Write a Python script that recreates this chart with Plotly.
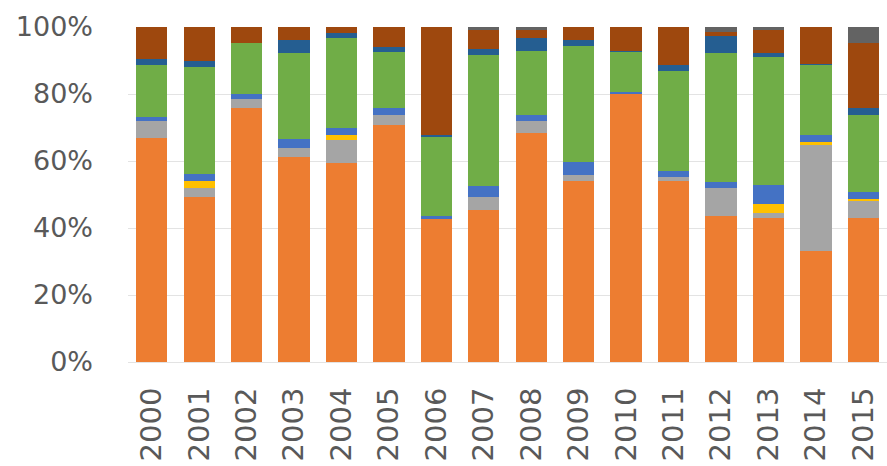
import plotly.graph_objects as go

years = [str(y) for y in range(2000, 2016)]

# shares in percent, bottom to top
orange    = [66.8, 49.2, 75.7, 61.3, 59.3, 70.7, 42.7, 45.4, 68.4, 54.1, 80.2, 54.1, 43.6, 42.9, 33.0, 42.9]
gray      = [5.1, 2.8, 2.8, 2.5, 7.0, 3.0, 0.0, 3.8, 3.5, 1.7, 0.0, 1.2, 8.2, 1.5, 31.8, 5.2]
yellow    = [0.0, 2.1, 0.0, 0.0, 1.5, 0.0, 0.0, 0.0, 0.0, 0.0, 0.0, 0.0, 0.0, 2.8, 1.0, 0.5]
blue      = [1.3, 2.0, 1.5, 2.8, 2.2, 2.0, 0.9, 3.4, 1.8, 4.0, 0.5, 1.8, 2.0, 5.6, 2.0, 2.2]
green     = [15.5, 32.1, 15.3, 25.7, 26.6, 16.9, 23.7, 39.0, 19.2, 34.5, 12.0, 29.9, 38.5, 38.1, 20.9, 22.9]
darkblue  = [1.7, 1.7, 0.0, 3.8, 1.5, 1.3, 0.5, 1.7, 3.7, 1.8, 0.2, 1.7, 4.9, 1.4, 0.4, 2.0]
brown     = [9.6, 10.1, 4.7, 3.9, 1.9, 6.1, 32.2, 5.9, 2.4, 3.9, 7.1, 11.3, 1.3, 6.7, 10.9, 19.6]
darkgray  = [0.0, 0.0, 0.0, 0.0, 0.0, 0.0, 0.0, 0.8, 1.0, 0.0, 0.0, 0.0, 1.5, 1.0, 0.0, 4.7]

y_tickvals = [0, 20, 40, 60, 80, 100]
y_ticktext = ["0%", "20%", "40%", "60%", "80%", "100%"]

series = [
    ("S1", orange, "#ED7D31"),
    ("S2", gray, "#A5A5A5"),
    ("S3", yellow, "#FFC000"),
    ("S4", blue, "#4472C4"),
    ("S5", green, "#70AD47"),
    ("S6", darkblue, "#255E91"),
    ("S7", brown, "#9E480E"),
    ("S8", darkgray, "#636363"),
]

fig = go.Figure()
for name, vals, col in series:
    fig.add_trace(go.Bar(x=years, y=vals, name=name, marker=dict(color=col, line=dict(width=0))))

font = dict(family="DejaVu Sans", size=27, color="#595959")
xfont = dict(family="DejaVu Sans", size=29, color="#595959")
fig.update_layout(
    barmode="stack",
    bargap=0.34,
    width=887, height=466,
    margin=dict(l=128, r=0, t=27, b=104),
    paper_bgcolor="white", plot_bgcolor="white",
    showlegend=False,
    font=font,
)
fig.update_yaxes(range=[0, 100], tickmode="array", tickvals=y_tickvals, ticktext=y_ticktext,
                 showgrid=True, gridcolor="#E3E3E3", gridwidth=1, zeroline=False,
                 showline=False, ticks="", ticklabelstandoff=34, tickfont=font)
fig.update_xaxes(tickangle=-90, showline=True, linecolor="#E3E3E3", ticks="",
                 ticklabelstandoff=13, tickfont=xfont)

fig.write_html("out.html")
